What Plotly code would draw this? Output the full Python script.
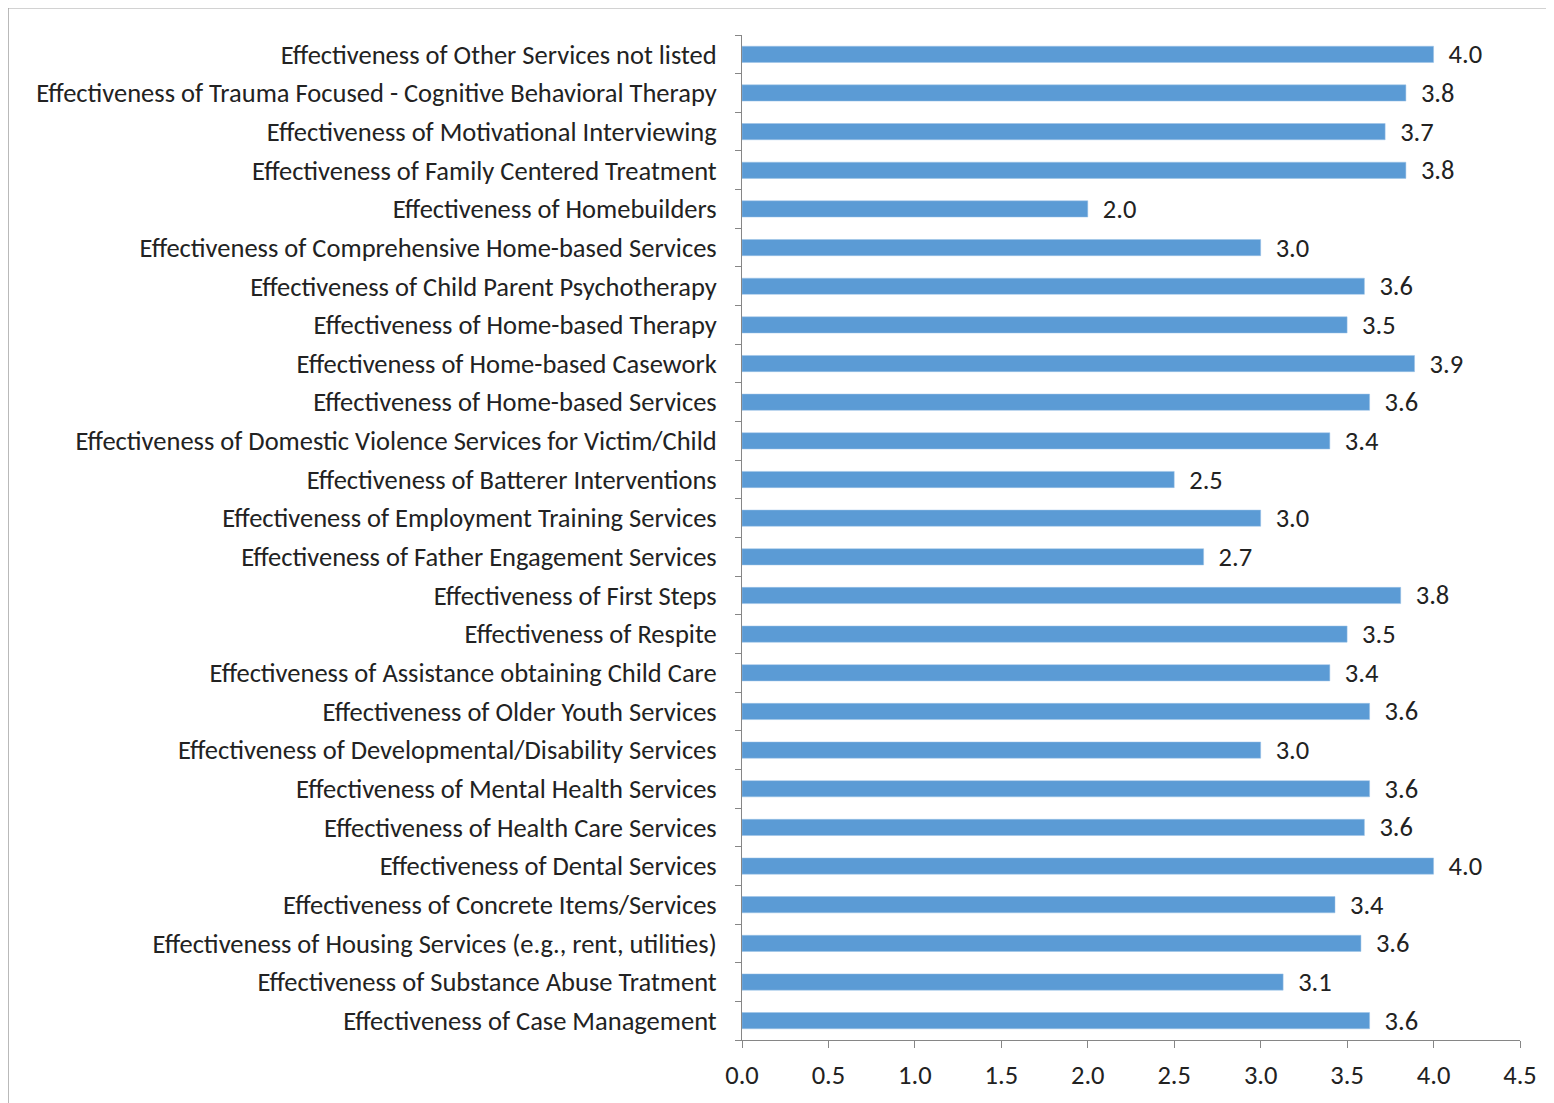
import plotly.graph_objects as go

# categories listed bottom to top, as plotly draws them
services = [
    "Effectiveness of Case Management",
    "Effectiveness of Substance Abuse Tratment",
    "Effectiveness of Housing Services (e.g., rent, utilities)",
    "Effectiveness of Concrete Items/Services",
    "Effectiveness of Dental Services",
    "Effectiveness of Health Care Services",
    "Effectiveness of Mental Health Services",
    "Effectiveness of Developmental/Disability Services",
    "Effectiveness of Older Youth Services",
    "Effectiveness of Assistance obtaining Child Care",
    "Effectiveness of Respite",
    "Effectiveness of First Steps",
    "Effectiveness of Father Engagement Services",
    "Effectiveness of Employment Training Services",
    "Effectiveness of Batterer Interventions",
    "Effectiveness of Domestic Violence Services for Victim/Child",
    "Effectiveness of Home-based Services",
    "Effectiveness of Home-based Casework",
    "Effectiveness of Home-based Therapy",
    "Effectiveness of Child Parent Psychotherapy",
    "Effectiveness of Comprehensive Home-based Services",
    "Effectiveness of Homebuilders",
    "Effectiveness of Family Centered Treatment",
    "Effectiveness of Motivational Interviewing",
    "Effectiveness of Trauma Focused - Cognitive Behavioral Therapy",
    "Effectiveness of Other Services not listed",
]
scores = [3.63, 3.13, 3.58, 3.43, 4.0, 3.60, 3.63, 3.0, 3.63, 3.40, 3.5, 3.81, 2.67,
          3.0, 2.50, 3.40, 3.63, 3.89, 3.5, 3.60, 3.0, 2.0, 3.84, 3.72, 3.84, 4.0]
x_ticks = [0, 0.5, 1.0, 1.5, 2.0, 2.5, 3.0, 3.5, 4.0, 4.5]

font = "Carlito, Liberation Sans Narrow, Noto Sans, sans-serif"

fig = go.Figure(go.Bar(
    x=scores, y=services, orientation="h",
    marker=dict(color="#5B9BD5", line=dict(color="#9DC3E6", width=0.5)),
    text=["\u00a0\u00a0" + f"{v:.1f}" for v in scores],
    textposition="outside", cliponaxis=False, constraintext="none",
    textfont=dict(family=font, size=26.5, color="#222222"),
    width=0.42,
))

fig.update_xaxes(range=[0, 4.5], tickvals=x_ticks, tickformat=".1f",
                 showgrid=False, zeroline=False,
                 showline=True, linecolor="#868686", linewidth=1,
                 ticks="outside", ticklen=7, tickcolor="#868686",
                 ticklabelstandoff=4,
                 tickfont=dict(family=font, size=26.5, color="#222222"))

fig.update_yaxes(categoryorder="array", categoryarray=services,
                 showgrid=False, showline=True, linecolor="#868686", linewidth=1,
                 ticks="outside", ticklen=6, tickcolor="#868686", tickson="boundaries",
                 ticklabelstandoff=19,
                 tickfont=dict(family=font, size=26.5, color="#222222"))

# thin grey frame around the whole chart
fig.add_shape(type="rect", xref="paper", yref="paper",
              x0=-0.9434, x1=1.06, y0=-0.08, y1=1.027,
              line=dict(color="#A6A6A6", width=1.5))

# the page body adds an 8px margin, so the figure is 8px smaller each way
fig.update_layout(width=1546, height=1095,
                  margin=dict(l=734, r=34, t=27, b=63),
                  paper_bgcolor="white", plot_bgcolor="white",
                  showlegend=False, bargap=0.58)

fig.write_html("out.html")
